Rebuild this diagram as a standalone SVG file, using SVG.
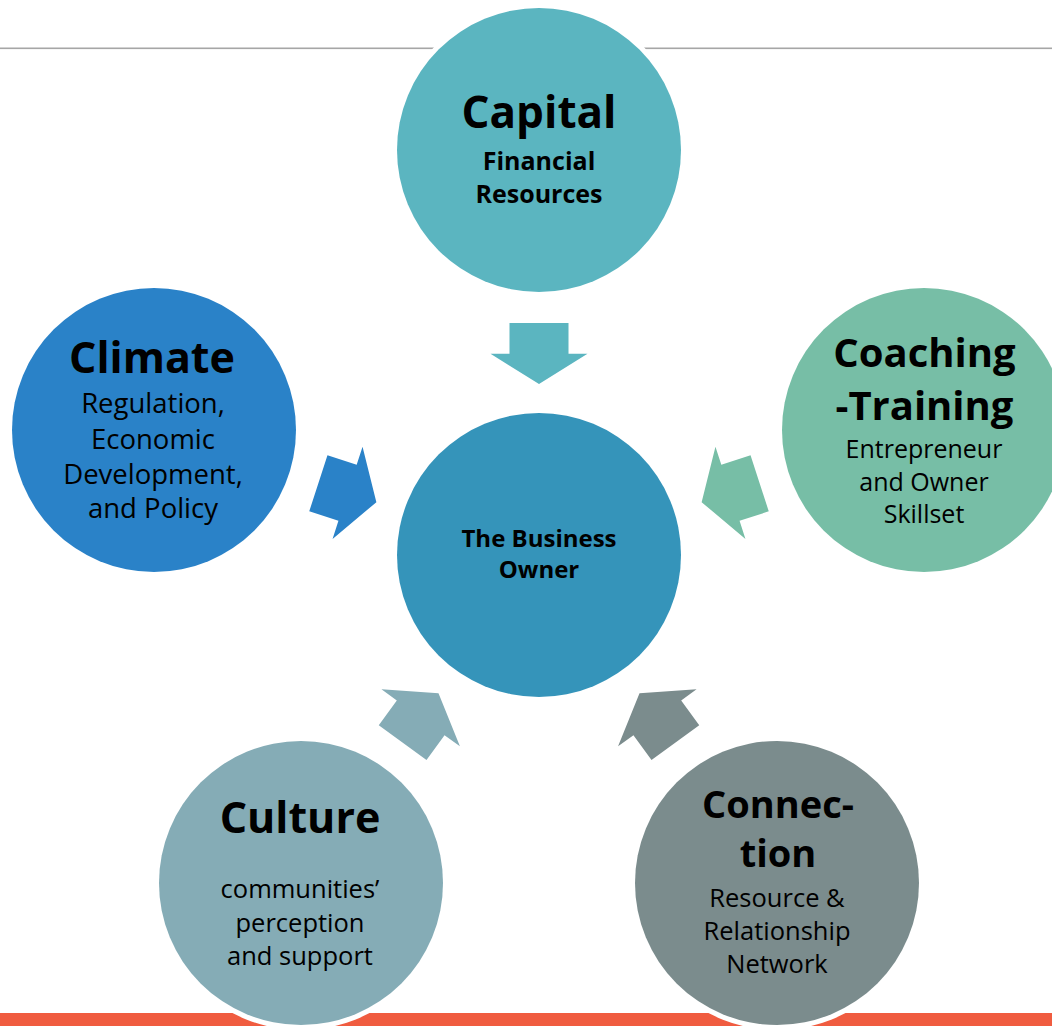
<svg xmlns="http://www.w3.org/2000/svg" width="1052" height="1026" viewBox="0 0 1052 1026">
<style>
.node{stroke:#fff;stroke-width:10;paint-order:stroke}
text{font-family:"Open Sans","Liberation Sans",sans-serif;fill:#000;text-anchor:middle}
.t{font-weight:bold}
.s{font-size:27.5px}
.u{font-size:25.5px}
</style>
<defs>
<polygon id="arr" points="-29.5,-232 29.5,-232 29.5,-201.3 48.5,-201.3 0,-171 -48.5,-201.3 -29.5,-201.3"/>
</defs>
<rect x="0" y="0" width="1052" height="1026" fill="#fff"/>
<rect x="0" y="47.5" width="1052" height="1.6" fill="#A6A6A6"/>
<rect x="0" y="1013" width="1052" height="13" fill="#F05C40"/>
<g id="connectors">
<use href="#arr" transform="translate(539,555)" fill="#5BB5C0"/>
<use href="#arr" transform="translate(539,555) rotate(72)" fill="#77BEA6"/>
<use href="#arr" transform="translate(539,555) rotate(144)" fill="#7B8C8D"/>
<use href="#arr" transform="translate(539,555) rotate(-144)" fill="#85ACB6"/>
<use href="#arr" transform="translate(539,555) rotate(-72)" fill="#2A82C8"/>
</g>
<g id="center">
<circle class="node" cx="539" cy="555" r="142" fill="#3594BA"/>
<text class="t" x="539" y="547" font-size="24">The Business</text>
<text class="t" x="539" y="577.5" font-size="24">Owner</text>
</g>
<g id="capital">
<circle class="node" cx="539" cy="150" r="142" fill="#5BB5C0"/>
<text class="t" x="539" y="128" font-size="44">Capital</text>
<text class="t" x="539" y="170" font-size="25">Financial</text>
<text class="t" x="539" y="203" font-size="25">Resources</text>
</g>
<g id="climate">
<circle class="node" cx="154" cy="430" r="142" fill="#2A82C8"/>
<text class="t" x="152" y="373" font-size="43">Climate</text>
<text class="s" x="153" y="413">Regulation,</text>
<text class="s" x="153" y="449">Economic</text>
<text class="s" x="153" y="483.5">Development,</text>
<text class="s" x="153" y="518">and Policy</text>
</g>
<g id="coaching">
<circle class="node" cx="924" cy="430" r="142" fill="#77BEA6"/>
<text class="t" x="924.5" y="367" font-size="40">Coaching</text>
<text class="t" x="924.5" y="420" font-size="40">-Training</text>
<text x="924" y="458" font-size="25">Entrepreneur</text>
<text x="924" y="490.5" font-size="25">and Owner</text>
<text x="924" y="523" font-size="25">Skillset</text>
</g>
<g id="culture">
<circle class="node" cx="301" cy="883" r="142" fill="#85ACB6"/>
<text class="t" x="300" y="833" font-size="43">Culture</text>
<text class="u" x="300" y="898">communities’</text>
<text class="u" x="300" y="931.5">perception</text>
<text class="u" x="300" y="965">and support</text>
</g>
<g id="connection">
<circle class="node" cx="777" cy="883" r="142" fill="#7B8C8D"/>
<text class="t" x="778" y="818" font-size="38">Connec-</text>
<text class="t" x="778" y="867" font-size="38">tion</text>
<text class="u" x="777" y="906.5">Resource &amp;</text>
<text class="u" x="777" y="939.5">Relationship</text>
<text class="u" x="777" y="972.5">Network</text>
</g>
</svg>
